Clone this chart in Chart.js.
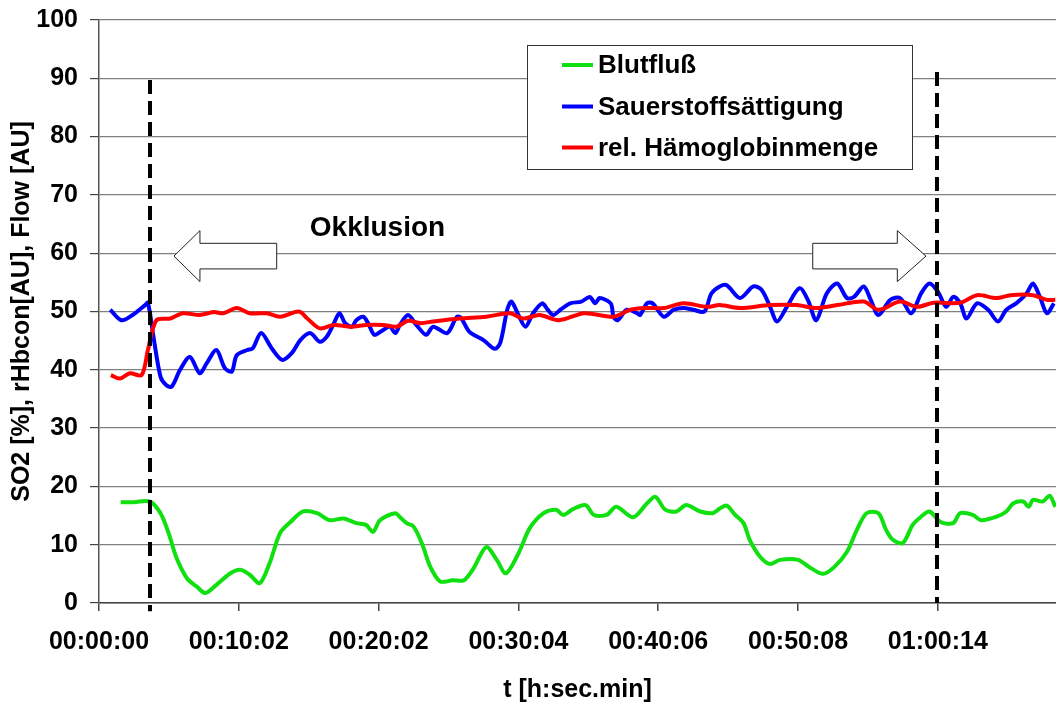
<!DOCTYPE html>
<html>
<head>
<meta charset="utf-8">
<script src="https://cdn.jsdelivr.net/npm/chart.js@4/dist/chart.umd.min.js"></script>
<style>
  body { margin: 0; background: #fff; }
  #wrap { width: 1056px; height: 702px; }
</style>
</head>
<body>
<div id="wrap"><canvas id="myChart" width="1056" height="702"></canvas></div>
<script>
// Zeitachse in Minuten, Beschriftung wie im Original
const xTickLabels = ['00:00:00', '00:10:02', '00:20:02', '00:30:04', '00:40:06', '00:50:08', '01:00:14'];
const yTickValues = [0, 10, 20, 30, 40, 50, 60, 70, 80, 90, 100];

// Blutfluß
const blutTime = [1.55, 2.5, 3.65, 4.4, 4.95, 5.55, 6.3, 7.0, 7.6, 8.4, 9.4, 10.1, 10.8, 11.5, 12.2, 12.95, 13.7, 14.6, 15.6, 16.5,
  17.5, 18.4, 19.1, 19.6, 20.1, 21.2, 21.5, 22.0, 22.5, 23.1, 23.7, 24.4, 25.3, 26.1, 26.8, 27.7, 28.45, 29.1, 30.0, 30.8,
  31.8, 32.7, 33.2, 33.9, 34.8, 35.4, 36.3, 37.0, 38.2, 39.2, 39.8, 40.5, 41.3, 42.0, 43.0, 43.9, 44.4, 44.9, 45.5, 46.1,
  46.55, 47.3, 48.0, 48.7, 50.0, 50.9, 51.8, 52.6, 53.5, 54.2, 54.9, 55.75, 56.3, 56.8, 57.5, 58.2, 58.8, 59.4, 60.2, 61.1,
  61.6, 62.5, 63.1, 64.2, 64.9, 65.4, 66.1, 66.5, 66.8, 67.5, 68.0, 68.4];
const blutValues = [17.3, 17.3, 17.4, 15.4, 12.2, 7.7, 4.2, 2.8, 1.7, 3.1, 5.1, 5.7, 4.8, 3.4, 6.8, 12.0, 13.9, 15.7, 15.4, 14.2,
  14.5, 13.7, 13.4, 12.2, 14.2, 15.4, 14.8, 13.7, 13.1, 10.2, 6.2, 3.7, 3.9, 3.9, 6.0, 9.6, 7.4, 5.1, 8.5, 12.8,
  15.4, 16.0, 15.1, 16.1, 16.8, 15.1, 15.1, 16.5, 14.7, 17.1, 18.2, 16.0, 15.7, 16.8, 15.7, 15.4, 16.2, 16.7, 15.1, 13.7,
  10.8, 7.9, 6.7, 7.4, 7.4, 6.0, 5.0, 6.2, 8.8, 12.5, 15.4, 15.4, 12.5, 10.8, 10.3, 13.4, 14.8, 15.7, 13.9, 13.7,
  15.4, 15.1, 14.2, 14.8, 15.7, 17.1, 17.4, 16.5, 17.7, 17.4, 18.4, 16.5];

// Sauerstoffsättigung
const so2Time = [0.8, 1.6, 2.4, 3.3, 3.5, 3.9, 4.4, 4.8, 5.2, 5.8, 6.5, 7.2, 7.7, 8.4, 9.0, 9.5, 9.85, 10.6, 11.0, 11.6,
  12.35, 13.1, 13.8, 14.4, 15.1, 15.8, 16.3, 16.75, 17.2, 17.6, 18.1, 18.4, 18.9, 19.25, 19.7, 20.3, 20.8, 21.2, 21.5, 22.1,
  22.7, 23.4, 23.9, 24.9, 25.6, 25.9, 26.5, 27.5, 28.3, 28.7, 29.2, 29.5, 30.0, 30.5, 31.05, 31.7, 32.1, 32.5, 33.0, 33.7,
  34.5, 35.1, 35.5, 35.8, 36.6, 36.8, 37.1, 37.75, 38.5, 38.7, 39.2, 39.6, 40.4, 41.1, 41.8, 42.5, 43.3, 43.8, 44.4, 44.9,
  45.85, 46.8, 47.4, 48.0, 48.5, 49.2, 50.1, 50.7, 51.3, 52.05, 52.8, 53.5, 54.0, 54.7, 55.2, 55.75, 56.6, 57.3, 58.1, 58.8,
  59.4, 60.0, 60.6, 61.1, 61.6, 62.05, 62.8, 63.6, 64.3, 64.9, 65.6, 66.35, 66.8, 67.3, 67.8, 68.3];
const so2Values = [50.3, 48.5, 49.4, 51.1, 51.5, 45.6, 38.8, 37.4, 37.1, 40.0, 42.2, 39.4, 41.1, 43.4, 40.3, 39.7, 42.5, 43.4, 43.7, 46.3,
  43.7, 41.7, 42.9, 45.1, 46.3, 44.8, 45.7, 47.7, 49.7, 48.0, 47.4, 48.5, 49.1, 48.0, 46.0, 46.8, 47.4, 46.3, 47.6, 49.4,
  47.7, 46.0, 47.4, 46.3, 49.1, 48.9, 46.5, 45.1, 43.6, 44.6, 50.3, 51.7, 49.4, 47.4, 49.7, 51.4, 50.3, 49.4, 50.3, 51.4,
  51.7, 52.5, 51.4, 52.3, 51.4, 49.1, 48.5, 50.3, 49.7, 49.4, 51.4, 51.4, 49.1, 50.3, 50.6, 50.3, 50.0, 53.1, 54.3, 54.5,
  52.3, 54.3, 53.7, 50.8, 48.3, 50.8, 54.0, 52.0, 48.5, 53.1, 54.8, 52.3, 52.5, 54.3, 52.0, 49.4, 52.0, 52.3, 49.7, 53.1,
  54.8, 53.4, 50.8, 52.5, 51.4, 48.8, 51.4, 50.3, 48.3, 50.3, 51.4, 53.1, 54.8, 52.5, 49.7, 51.4];

// rel. Hämoglobinmenge
const hbTime = [0.85, 1.5, 2.2, 3.05, 3.5, 4.1, 5.1, 6.0, 7.2, 8.2, 8.9, 9.85, 10.8, 12.0, 12.95, 14.3, 14.9, 15.8, 16.8, 18.0,
  19.15, 20.3, 21.3, 22.1, 23.0, 23.9, 25.8, 27.7, 29.4, 30.35, 31.5, 32.9, 34.7, 36.8, 38.0, 39.2, 40.4, 41.8, 43.5, 44.4,
  45.85, 48.0, 49.9, 51.3, 52.8, 54.7, 55.75, 57.3, 58.5, 59.7, 61.6, 62.8, 64.2, 65.2, 66.8, 67.8, 68.4];
const hbValues = [39.1, 38.5, 39.4, 39.1, 43.4, 48.5, 48.8, 49.7, 49.4, 49.9, 49.7, 50.6, 49.7, 49.7, 49.1, 50.0, 48.8, 47.1, 47.7, 47.4,
  47.7, 47.7, 47.4, 48.4, 48.0, 48.3, 48.8, 49.1, 49.7, 48.8, 49.4, 48.5, 49.7, 49.1, 50.3, 50.6, 50.6, 51.4, 50.8, 51.1,
  50.6, 51.1, 51.1, 50.6, 51.1, 51.7, 50.3, 51.7, 50.8, 51.5, 51.5, 52.8, 52.3, 52.8, 52.8, 52.0, 52.0];

// Beginn und Ende der Okklusion (Minuten)
const occlusionMarks = [3.65, 59.95];

const FONT = '"Liberation Sans", Arial, sans-serif';

function toPoints(times, values) {
  return times.map((t, i) => ({ x: t, y: values[i] }));
}

// gestrichelte Linien, Pfeile, Text und Legende
const overlayPlugin = {
  id: 'overlay',
  afterDatasetsDraw(chart) {
    const { ctx, scales: { x, y } } = chart;
    ctx.save();

    // senkrechte gestrichelte Linien
    ctx.strokeStyle = '#000';
    ctx.lineWidth = 4;
    ctx.setLineDash([14, 7]);
    const tops = [89.7, 91.1];
    const bottoms = [-1.4, 0];
    occlusionMarks.forEach((t, i) => {
      const px = Math.round(x.getPixelForValue(t));
      ctx.beginPath();
      ctx.moveTo(px, y.getPixelForValue(tops[i]));
      ctx.lineTo(px, y.getPixelForValue(bottoms[i]));
      ctx.stroke();
    });
    ctx.setLineDash([]);

    // Blockpfeile
    function blockArrow(tail, headBase, tip, yc) {
      const cy = y.getPixelForValue(yc);
      const xt = x.getPixelForValue(tail), xb = x.getPixelForValue(headBase), xp = x.getPixelForValue(tip);
      ctx.beginPath();
      ctx.moveTo(xt, cy - 12.8);
      ctx.lineTo(xb, cy - 12.8);
      ctx.lineTo(xb, cy - 25.5);
      ctx.lineTo(xp, cy);
      ctx.lineTo(xb, cy + 25.5);
      ctx.lineTo(xb, cy + 12.8);
      ctx.lineTo(xt, cy + 12.8);
      ctx.closePath();
      ctx.fillStyle = '#fff';
      ctx.fill();
      ctx.strokeStyle = '#222';
      ctx.lineWidth = 1;
      ctx.stroke();
    }
    blockArrow(12.71, 7.22, 5.36, 59.5);
    blockArrow(51.05, 57.1, 59.15, 59.5);

    ctx.fillStyle = '#000';
    ctx.font = 'bold 28px ' + FONT;
    ctx.textAlign = 'center';
    ctx.textBaseline = 'middle';
    ctx.fillText('Okklusion', 377.5, 228);

    // Legende
    ctx.fillStyle = '#fff';
    ctx.fillRect(527, 45, 385, 124);
    ctx.strokeStyle = '#333';
    ctx.lineWidth = 1;
    ctx.strokeRect(527.5, 45.5, 385, 124);
    ctx.font = 'bold 26px ' + FONT;
    ctx.textAlign = 'left';
    const rows = [65, 106.5, 147.5];
    chart.data.datasets.forEach((ds, i) => {
      ctx.strokeStyle = ds.borderColor;
      ctx.lineWidth = 4;
      ctx.beginPath();
      ctx.moveTo(562, rows[i]);
      ctx.lineTo(593, rows[i]);
      ctx.stroke();
      ctx.fillStyle = '#000';
      ctx.fillText(ds.label, 598, rows[i] + 1);
    });
    ctx.restore();
  }
};

const ctx = document.getElementById('myChart').getContext('2d');
const myChart = new Chart(ctx, {
  type: 'line',
  data: {
    datasets: [
      { label: 'Blutfluß', data: toPoints(blutTime, blutValues), borderColor: '#10e010', order: 2 },
      { label: 'Sauerstoffsättigung', data: toPoints(so2Time, so2Values), borderColor: '#0000ff', order: 1 },
      { label: 'rel. Hämoglobinmenge', data: toPoints(hbTime, hbValues), borderColor: '#ff0000', order: 0 }
    ]
  },
  options: {
    responsive: false,
    animation: false,
    parsing: false,
    layout: { padding: { top: 20, right: 0, left: 0, bottom: 0 } },
    elements: {
      point: { radius: 0 },
      line: { borderWidth: 4, tension: 0.3, fill: false }
    },
    plugins: { legend: { display: false }, tooltip: { enabled: false } },
    scales: {
      x: {
        type: 'linear',
        min: 0,
        max: 68.45,
        afterFit: scale => { scale.height = 99; scale.paddingRight = 0; },
        border: { color: '#444', width: 1.5 },
        grid: { drawOnChartArea: false, drawTicks: true, tickLength: 8, color: '#444', lineWidth: 1.5 },
        ticks: {
          stepSize: 10,
          includeBounds: false,
          autoSkip: false,
          maxRotation: 0,
          padding: 16,
          color: '#000',
          font: { family: FONT, size: 25, weight: 'bold' },
          callback: v => xTickLabels[v / 10]
        },
        title: {
          display: true,
          text: 't [h:sec.min]',
          color: '#000',
          font: { family: FONT, size: 25, weight: 'bold', lineHeight: 1 },
          padding: { top: 0, bottom: -1 }
        }
      },
      y: {
        min: 0,
        max: 100,
        afterFit: scale => { scale.width = 99; scale.paddingTop = 0; scale.paddingBottom = 0; },
        afterBuildTicks: scale => { scale.ticks = yTickValues.map(v => ({ value: v })); },
        border: { color: '#555', width: 1.5 },
        grid: { color: '#808080', lineWidth: 1.2, tickLength: 9, tickColor: '#444' },
        ticks: {
          padding: 12,
          color: '#000',
          font: { family: FONT, size: 25, weight: 'bold' }
        },
        title: {
          display: true,
          text: 'SO2 [%], rHbcon[AU], Flow [AU]',
          color: '#000',
          font: { family: FONT, size: 25, weight: 'bold', lineHeight: 1 },
          padding: { top: 10, bottom: 0 }
        }
      }
    }
  },
  plugins: [overlayPlugin]
});
</script>
</body>
</html>
